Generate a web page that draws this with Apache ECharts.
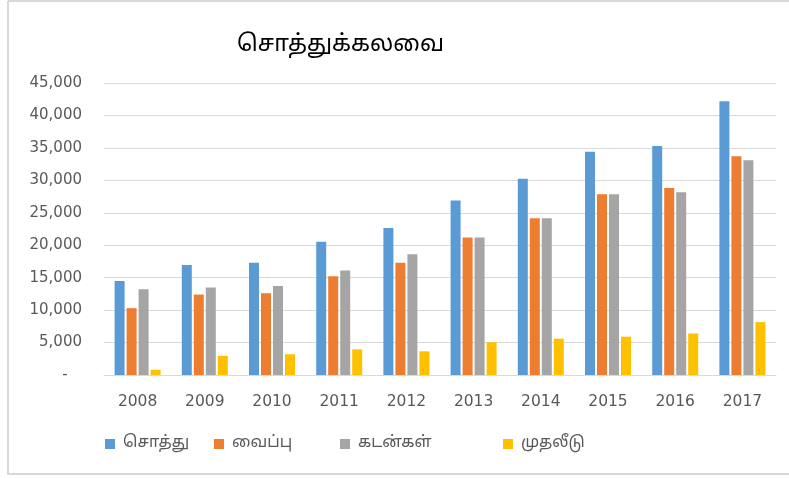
<!DOCTYPE html>
<html>
<head>
<meta charset="utf-8">
<script src="https://cdn.jsdelivr.net/npm/echarts@6/dist/echarts.min.js"></script>
<style>
  html, body { margin: 0; padding: 0; background: #fff; }
  #chart { width: 789px; height: 478px; }
</style>
</head>
<body>
<div id="chart"></div>
<script>
// values
const years = ["2008", "2009", "2010", "2011", "2012", "2013", "2014", "2015", "2016", "2017"];
const sothu = [14500, 16950, 17300, 20550, 22650, 26900, 30250, 34400, 35300, 42200];
const vaippu = [10300, 12400, 12600, 15200, 17300, 21200, 24150, 27850, 28800, 33700];
const kadangal = [13200, 13500, 13700, 16100, 18600, 21200, 24150, 27850, 28150, 33100];
const muthaleedu = [800, 2950, 3200, 3950, 3650, 5050, 5600, 5900, 6400, 8150];
const names = ["சொத்து", "வைப்பு", "கடன்கள்", "முதலீடு"];
const colors = ["#5B9BD5", "#ED7D31", "#A5A5A5", "#FFC000"];
const legendLeft = [100, 209, 335, 498];

const font = "'DejaVu Sans', 'Noto Sans', sans-serif";
const tamilFont = "'Noto Sans Tamil', 'Noto Sans', sans-serif";
const chart = echarts.init(document.getElementById("chart"));

const allData = [sothu, vaippu, kadangal, muthaleedu];

const option = {
  animation: false,
  color: colors,
  title: {
    text: "சொத்துக்கலவை",
    left: 232,
    top: 30,
    textStyle: { fontFamily: tamilFont, fontSize: 23, fontWeight: "normal", color: "#000" },
  },
  graphic: [
    {
      type: "polyline",
      shape: { points: [[8, 1], [8, 474], [789, 474]] },
      style: { stroke: "#d9d9d9", lineWidth: 2, fill: null },
    },
    {
      type: "line",
      shape: { x1: 8, y1: 1, x2: 789, y2: 1 },
      style: { stroke: "#d9d9d9", lineWidth: 2 },
    },
  ],
  legend: names.map((n, i) => ({
    data: [n],
    left: legendLeft[i],
    top: 431,
    itemWidth: 10,
    itemHeight: 10,
    icon: "rect",
    textStyle: { fontFamily: tamilFont, fontSize: 16, color: "#595959", padding: [0, 0, 0, 3] },
  })),
  grid: { left: 104, right: 13, top: 83, bottom: 103 },
  xAxis: {
    type: "category",
    data: years,
    axisLine: { lineStyle: { color: "#d9d9d9" } },
    axisTick: { show: false },
    axisLabel: { fontFamily: font, fontSize: 15.5, color: "#595959", margin: 19 },
  },
  yAxis: {
    type: "value",
    min: 0,
    max: 45000,
    interval: 5000,
    axisLine: { show: false },
    axisTick: { show: false },
    splitLine: { lineStyle: { color: "#d9d9d9" } },
    axisLabel: {
      fontFamily: font,
      fontSize: 15,
      color: "#595959",
      margin: 22,
      formatter: (v) => (v === 0 ? "-   " : v.toLocaleString("en-US")),
    },
  },
  series: names.map((n, i) => ({
    name: n,
    type: "bar",
    data: allData[i],
    barWidth: 10,
    barGap: "20%",
  })),
};

chart.setOption(option);
</script>
</body>
</html>
